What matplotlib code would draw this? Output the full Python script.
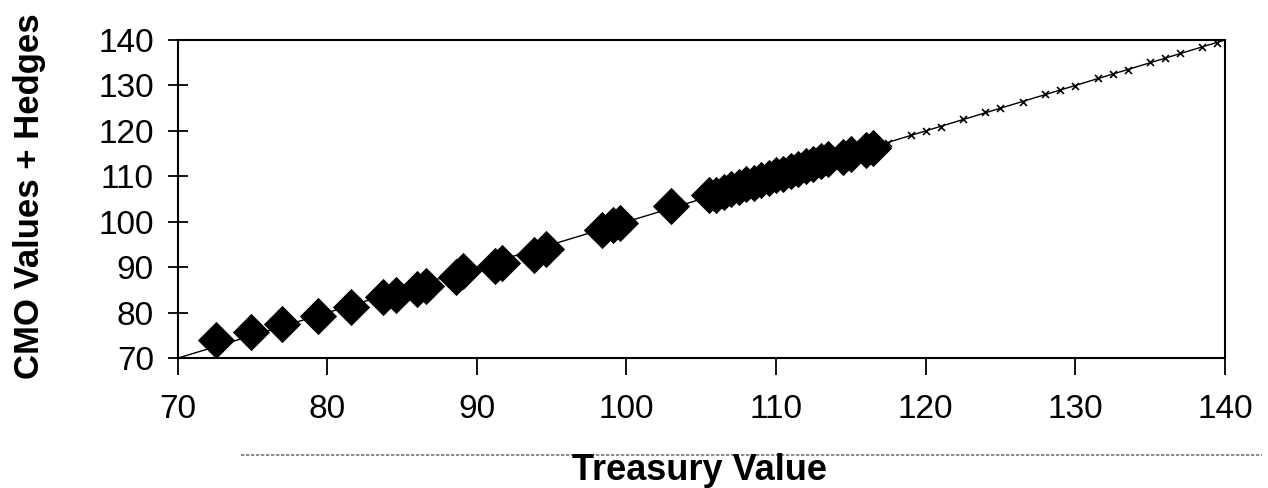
import matplotlib
matplotlib.use("Agg")
import matplotlib.pyplot as plt
from matplotlib.lines import Line2D

# Large diamond markers (Treasury value, CMO value + hedges)
treasury_big = [72.6, 74.9, 77.0, 79.4, 81.6, 83.7, 84.6, 86.0, 86.6, 88.6, 89.1,
                91.2, 91.7, 93.8, 94.6, 98.4, 99.1, 99.6, 103.0,
                105.5, 106.0, 106.5, 107.0, 107.5, 108.0, 108.5, 109.0, 109.5,
                110.0, 110.5, 111.0, 111.5, 112.0, 112.5, 113.0, 113.5,
                114.5, 115.0, 116.0, 116.5]
cmo_big = [74.0, 75.8, 77.6, 79.3, 81.2, 83.4, 83.8, 85.2, 85.8, 87.9, 89.2,
           90.3, 90.9, 92.8, 94.0, 98.2, 99.3, 99.8, 103.5,
           105.8, 106.0, 106.6, 107.2, 107.6, 108.3, 108.6, 109.2, 109.7,
           110.3, 110.5, 111.2, 111.6, 112.3, 112.8, 113.4, 113.8,
           114.3, 114.9, 115.8, 116.2]

# Small markers along the upper part of the line
treasury_small = [117.5, 119.0, 120.0, 121.0, 122.5, 124.0, 125.0, 126.5, 128.0,
                  129.0, 130.0, 131.5, 132.5, 133.5, 135.0, 136.0, 137.0, 138.5, 139.5]
cmo_small = [117.4, 119.1, 120.0, 120.9, 122.6, 124.1, 125.0, 126.4, 128.1,
             129.0, 129.9, 131.6, 132.6, 133.4, 135.1, 136.0, 137.1, 138.4, 139.3]

x_ticks = [70, 80, 90, 100, 110, 120, 130, 140]
y_ticks = [70, 80, 90, 100, 110, 120, 130, 140]
line_x = [70, 140]
line_y = [70, 140]

plt.rcParams['font.family'] = ['Liberation Sans', 'DejaVu Sans']

fig = plt.figure(figsize=(12.68, 4.88), dpi=100)
ax = fig.add_axes([0.140, 0.266, 0.826, 0.652])

ax.plot(line_x, line_y, color='black', lw=1.0, zorder=2)
ax.scatter(treasury_big, cmo_big, marker='D', s=360, color='black', zorder=3, linewidths=0)
ax.scatter(treasury_small, cmo_small, marker='x', s=25, color='black', lw=1.2, zorder=3)

ax.set_xlim(70, 140)
ax.set_ylim(70, 140)
ax.set_xticks(x_ticks)
ax.set_yticks(y_ticks)
ax.tick_params(axis='x', direction='out', length=12, width=1.3, labelsize=24, pad=14)
ax.tick_params(axis='y', direction='inout', length=14, width=1.3, labelsize=24, pad=10)
for s in ax.spines.values():
    s.set_linewidth(1.5)
    s.set_color('black')

ax.set_ylabel('CMO Values + Hedges', fontsize=25, fontweight='bold')
ax.yaxis.set_label_coords(-0.126, 0.51)
fig.text(0.552, 0.036, 'Treasury Value', ha='center', va='center',
         fontsize=26, fontweight='bold')
fig.add_artist(Line2D([0.19, 0.995], [0.068, 0.068], transform=fig.transFigure,
                      color='#777777', lw=1.2, ls=(0, (2, 1))))

fig.savefig('out.png', dpi=100)
